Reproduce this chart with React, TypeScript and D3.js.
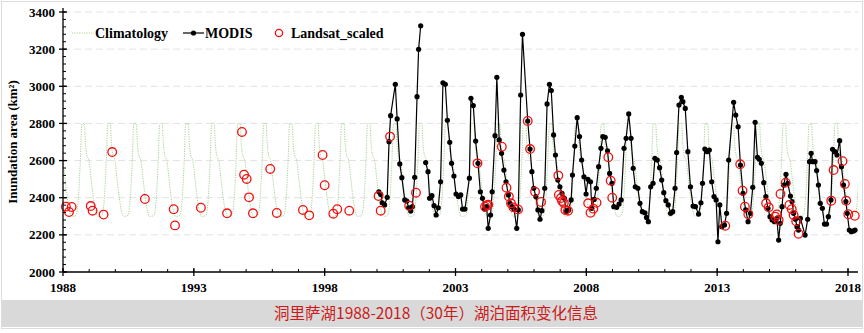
import React from "react";
import * as d3 from "d3";

// ---------- DATA ----------
const X_TICKS = [1988, 1993, 1998, 2003, 2008, 2013, 2018];
const Y_TICKS = [2000, 2200, 2400, 2600, 2800, 3000, 3200, 3400];

// Climatology: one-cycle profile (phase within cycle, value), repeated every cycle
const CLIM_PHASE = [0.0, 0.083, 0.167, 0.25, 0.333, 0.417, 0.5, 0.583, 0.667, 0.72, 0.75, 0.82, 0.86, 0.917];
const CLIM_VALUE = [2600, 2500, 2400, 2330, 2300, 2300, 2305, 2380, 2600, 2790, 2800, 2800, 2700, 2630];
const CLIM_START = 1988.0;
const CLIM_CYCLE = 0.9925; // cycle length in axis years
const CLIM_END = 2018.38;

// MODIS (decimal year, km²); null = gap in the line
const MODIS_T = [
  2000.07, 2000.14, 2000.2, 2000.29, 2000.39, 2000.46, 2000.52, 2000.7, 2000.77, 2000.87, 2000.95,
  2001.06, 2001.14, 2001.21, 2001.29, 2001.35, 2001.44, 2001.53, 2001.59, 2001.67, null,
  2001.86, 2001.95, 2002.01, 2002.1, 2002.18, 2002.26, 2002.34, 2002.43, 2002.52, 2002.61, 2002.69, 2002.78, 2002.85, 2002.94,
  2003.02, 2003.11, 2003.2, 2003.27, 2003.36, 2003.53, 2003.59, 2003.68, 2003.77, 2003.86, 2003.95,
  2004.03, 2004.11, 2004.19, 2004.25, 2004.34, 2004.4, 2004.51, 2004.58, 2004.67, 2004.76, 2004.85, 2004.93,
  2005.02, 2005.08, 2005.16, 2005.24, 2005.34, 2005.4, 2005.49, 2005.56, 2005.76, 2005.85, 2005.92, 2005.99,
  2006.07, 2006.15, 2006.23, 2006.3, 2006.41, 2006.5, 2006.59, 2006.66, 2006.75, 2006.82, 2006.91, 2006.99,
  2007.07, 2007.16, 2007.23, 2007.32, 2007.42, 2007.47, 2007.56, 2007.65, 2007.74, 2007.82, 2007.91, 2007.99,
  2008.06, 2008.16, 2008.21, 2008.3, 2008.38, 2008.47, 2008.56, 2008.63, 2008.72, 2008.81, 2008.89, 2008.98,
  2009.05, 2009.16, 2009.25, 2009.33, 2009.44, 2009.52, 2009.62, 2009.71, 2009.79, 2009.87, 2009.97,
  2010.05, 2010.14, 2010.24, 2010.3, 2010.37, 2010.46, 2010.55, 2010.62, 2010.71, 2010.8, 2010.88, 2010.96,
  2011.04, 2011.13, 2011.22, 2011.3, 2011.39, 2011.45, 2011.54, 2011.63, 2011.69, 2011.78, 2011.88, 2011.98,
  2012.08, 2012.17, 2012.29, 2012.38, 2012.44, 2012.53, 2012.62, 2012.7, 2012.79, 2012.88, 2012.96,
  2013.03, 2013.1, 2013.18, 2013.28, 2013.36, 2013.44, 2013.63, 2013.71, 2013.8, 2013.89, 2013.99,
  2014.09, 2014.18, 2014.27, 2014.36, 2014.45, 2014.54, 2014.61, 2014.69, 2014.78, 2014.86, 2014.94,
  2015.02, 2015.1, 2015.19, 2015.28, 2015.35, 2015.41, 2015.48, 2015.54, 2015.63, 2015.7, 2015.8, 2015.86, 2015.92, 2015.99,
  2016.05, 2016.11, 2016.18, 2016.36, 2016.46, 2016.53, 2016.59, 2016.65, 2016.74, 2016.8, 2016.87, 2016.94,
  2017.02, 2017.1, 2017.18, 2017.25, 2017.35, 2017.41, 2017.5, 2017.58, 2017.68, 2017.75, 2017.83, 2017.92, 2017.97,
  2018.05, 2018.13, 2018.21, 2018.27,
];
const MODIS_V = [
  2432, 2418, 2373, 2361, 2402, 2702, 2842, 3011, 2824, 2582, 2508,
  2388, 2382, 2346, 2328, 2352, 2510, 2944, 3199, 3326, null,
  2589, 2540, 2397, 2411, 2357, 2307, 2346, 2486, 3019, 3011, 2817, 2698, 2585, 2517,
  2420, 2406, 2415, 2339, 2339, 2505, 2935, 2896, 2705, 2585, 2432,
  2397, 2339, 2352, 2235, 2307, 2432, 2734, 3048, 2711, 2639, 2549, 2486,
  2415, 2370, 2352, 2337, 2235, 2334, 2953, 3280, 2813, 2662, 2540, 2451,
  2406, 2334, 2284, 2330, 2451, 2905, 3011, 2977, 2738, 2630, 2495, 2459,
  2424, 2397, 2325, 2334, 2388, 2522, 2678, 2831, 2729, 2603, 2513, 2420,
  2499, 2486, 2343, 2391, 2451, 2567, 2666, 2729, 2725, 2653, 2531, 2478,
  2352, 2348, 2366, 2388, 2666, 2720, 2851, 2720, 2558, 2459, 2451,
  2370, 2325, 2319, 2294, 2271, 2459, 2478, 2612, 2603, 2562, 2495, 2427,
  2384, 2361, 2316, 2325, 2451, 2643, 2899, 2941, 2917, 2881, 2648, 2459,
  2355, 2352, 2312, 2373, 2478, 2662, 2648, 2657, 2486, 2406, 2388,
  2163, 2361, 2244, 2253, 2316, 2603, 2914, 2845, 2782, 2576, 2424,
  2334, 2271, 2316, 2456, 2806, 2618, 2607, 2585, 2481, 2406, 2343,
  2298, 2280, 2271, 2289, 2172, 2262, 2352, 2468, 2526, 2478, 2409, 2379, 2316, 2284,
  2244, 2226, 2289, 2199, 2284, 2594, 2639, 2594, 2594, 2546, 2468, 2370,
  2343, 2258, 2258, 2298, 2388, 2661, 2648, 2630, 2707, 2567, 2468, 2379, 2316,
  2226, 2217, 2221, 2226,
];

// Landsat (scaled)
const LANDSAT_T = [
  1988.11, 1988.23, 1988.33, 1989.06, 1989.13, 1989.55, 1989.88, 1991.13, 1992.23, 1992.28, 1993.27, 1994.27,
  1994.84, 1994.92, 1995.02, 1995.11, 1995.26, 1995.92, 1996.17, 1997.17, 1997.41, 1997.92, 1998.0, 1998.33,
  1998.48, 1998.94, 2000.06, 2000.14, 2000.5, 2001.23, 2001.49, 2003.84, 2004.13, 2004.2, 2004.25, 2004.77,
  2004.95, 2005.04, 2005.12, 2005.21, 2005.39, 2005.76, 2005.85, 2006.04, 2006.27, 2006.93, 2006.95, 2007.03,
  2007.07, 2007.14, 2007.2, 2007.3, 2008.07, 2008.16, 2008.27, 2008.39, 2008.84, 2008.93, 2008.99, 2013.31,
  2013.88, 2013.97, 2014.06, 2014.19, 2014.87, 2014.97, 2015.22, 2015.28, 2015.35, 2015.42, 2015.62, 2015.76,
  2015.85, 2015.92, 2016.02, 2016.11, 2017.36, 2017.45, 2017.79, 2017.88, 2017.93, 2018.01, 2018.26,
];
const LANDSAT_V = [
  2352, 2323, 2350, 2355, 2330, 2309, 2646, 2393, 2338, 2251, 2346, 2316,
  2754, 2524, 2501, 2402, 2316, 2555, 2318, 2334, 2305, 2630, 2467, 2314,
  2338, 2330, 2409, 2330, 2729, 2357, 2427, 2585, 2352, 2358, 2362, 2675,
  2454, 2406, 2370, 2348, 2337, 2813, 2662, 2432, 2377, 2519, 2415, 2398,
  2382, 2372, 2334, 2330, 2370, 2319, 2341, 2373, 2618, 2492, 2400, 2249,
  2580, 2438, 2352, 2311, 2370, 2348, 2298, 2310, 2280, 2420, 2481, 2361,
  2338, 2307, 2273, 2206, 2384, 2549, 2597, 2474, 2384, 2311, 2303,
];

const LEGEND = ["Climatology", "MODIS", "Landsat_scaled"];
const Y_LABEL = "Inundation area (km²)";
const TITLE = "洞里萨湖1988-2018（30年）湖泊面积变化信息";

// ---------- LAYOUT ----------
const W = 864;
const H = 333;
const X0 = 63;
const X_END = 858;
const Y_TOP = 12;
const Y_BOT = 272;

export default function App() {
  const x = d3.scaleLinear().domain([1988, 2018]).range([X0, 848]);
  const y = d3.scaleLinear().domain([2000, 3400]).range([Y_BOT, Y_TOP]);

  const clim: [number, number][] = [];
  for (let k = 0; CLIM_START + k * CLIM_CYCLE < CLIM_END + 1; k++) {
    const s = CLIM_START + k * CLIM_CYCLE;
    CLIM_PHASE.forEach((p, i) => clim.push([s + p * CLIM_CYCLE, CLIM_VALUE[i]]));
  }
  const climLine = d3
    .line<[number, number]>()
    .x((d) => x(d[0]))
    .y((d) => y(d[1]))
    .curve(d3.curveMonotoneX);

  const modis = MODIS_T.map((t, i) => [t, MODIS_V[i]] as [number | null, number | null]);
  const modisLine = d3
    .line<[number | null, number | null]>()
    .defined((d) => d[0] != null && d[1] != null)
    .x((d) => x(d[0] as number))
    .y((d) => y(d[1] as number));

  const serif = "'Liberation Serif', 'Times New Roman', serif";
  const minorY = d3.range(2000, 3400.1, 40);
  const minorX = d3.range(1988, 2019, 1);
  const climColor = "#a8d494";

  return (
    <svg
      width={W}
      height={H}
      style={{ position: "absolute", left: 0, top: 0, background: "#fff" }}
    >
      <defs>
        <clipPath id="plotclip">
          <rect x={X0} y={0} width={X_END - X0} height={Y_BOT} />
        </clipPath>
      </defs>
      <rect x={1.5} y={1.5} width={W - 3} height={327} fill="#fff" stroke="#dcdcdc" />

      {Y_TICKS.filter((v) => v > 2000).map((v) => (
        <line
          key={"g" + v}
          x1={X0}
          x2={X_END}
          y1={y(v)}
          y2={y(v)}
          stroke="#e3e3e3"
          strokeWidth={1}
          strokeDasharray="7,4"
        />
      ))}

      <path
        d={climLine(clim) || ""}
        fill="none"
        stroke={climColor}
        strokeWidth={1}
        strokeDasharray="1.2,1.2"
        clipPath="url(#plotclip)"
      />

      <path d={modisLine(modis) || ""} fill="none" stroke="#000" strokeWidth={1.2} />
      {modis
        .filter((d) => d[0] != null)
        .map((d, i) => (
          <circle key={"m" + i} cx={x(d[0] as number)} cy={y(d[1] as number)} r={2.6} fill="#000" />
        ))}

      {LANDSAT_T.map((t, i) => (
        <circle
          key={"l" + i}
          cx={x(t)}
          cy={y(LANDSAT_V[i])}
          r={4.3}
          fill="none"
          stroke="#f01010"
          strokeWidth={1.3}
        />
      ))}

      <line x1={X0} x2={X0} y1={8} y2={Y_BOT} stroke="#000" strokeWidth={1.3} />
      <line x1={X0} x2={X_END} y1={Y_BOT} y2={Y_BOT} stroke="#000" strokeWidth={1.3} />
      {minorY.map((v) => (
        <line key={"my" + v} x1={X0} x2={X0 + 3} y1={y(v)} y2={y(v)} stroke="#000" strokeWidth={1} />
      ))}
      {Y_TICKS.map((v) => (
        <g key={"y" + v}>
          <line x1={X0 - 4} x2={X0 + 4} y1={y(v)} y2={y(v)} stroke="#000" strokeWidth={1.3} />
          <text
            x={55}
            y={y(v) + 4.5}
            textAnchor="end"
            fontFamily={serif}
            fontWeight="bold"
            fontSize={13}
            fill="#000"
          >
            {v}
          </text>
        </g>
      ))}
      {minorX.map((v) => (
        <line key={"mx" + v} x1={x(v)} x2={x(v)} y1={Y_BOT - 3} y2={Y_BOT} stroke="#000" strokeWidth={1} />
      ))}
      {X_TICKS.map((v) => (
        <g key={"x" + v}>
          <line x1={x(v)} x2={x(v)} y1={Y_BOT - 4} y2={Y_BOT + 4} stroke="#000" strokeWidth={1.3} />
          <text
            x={x(v)}
            y={292}
            textAnchor="middle"
            fontFamily={serif}
            fontWeight="bold"
            fontSize={13}
            fill="#000"
          >
            {v}
          </text>
        </g>
      ))}

      <text
        transform={`translate(17,${(Y_TOP + Y_BOT) / 2}) rotate(-90)`}
        textAnchor="middle"
        fontFamily={serif}
        fontWeight="bold"
        fontSize={13}
        fill="#000"
      >
        {Y_LABEL}
      </text>

      <g fontFamily={serif} fontWeight="bold" fontSize={14} fill="#000">
        <line x1={72} x2={94} y1={33} y2={33} stroke={climColor} strokeWidth={1} strokeDasharray="1.2,1.2" />
        <text x={95} y={38}>{LEGEND[0]}</text>
        <line x1={183} x2={204} y1={33} y2={33} stroke="#000" strokeWidth={1.2} />
        <circle cx={193.5} cy={33} r={2.6} fill="#000" />
        <text x={205} y={38}>{LEGEND[1]}</text>
        <circle cx={279} cy={33} r={3.6} fill="none" stroke="#f01010" strokeWidth={1.3} />
        <text x={291} y={38}>{LEGEND[2]}</text>
      </g>

      <rect x={2} y={300} width={W - 4} height={27} fill="#d9d9d9" />
      <text
        x={436}
        y={319}
        textAnchor="middle"
        fontFamily="'Noto Sans CJK SC', sans-serif"
        fontSize={15.5}
        fill="#cc1a1a"
      >
        {TITLE}
      </text>
    </svg>
  );
}
